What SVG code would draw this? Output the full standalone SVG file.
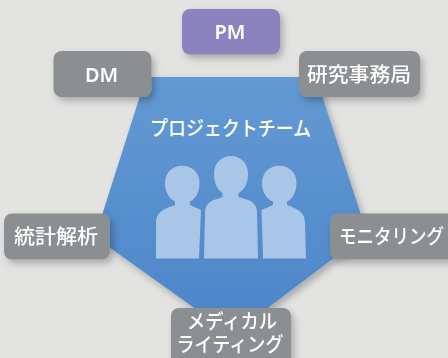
<svg xmlns="http://www.w3.org/2000/svg" width="448" height="358" viewBox="0 0 448 358">
<style>
.n{filter:url(#s)}
.g{fill:#8c8f91}
.t{font-family:"Noto Sans CJK JP","Noto Sans",sans-serif;font-size:20px;font-weight:500;fill:#fff;text-anchor:middle}
.l{font-family:"Noto Sans",sans-serif;font-weight:600;font-size:20px}
.p{fill:#a9c6e6}
</style>
<defs>
<linearGradient id="b" x1="0" y1="0" x2="0" y2="1"><stop offset="0" stop-color="#6399d2"/><stop offset="1" stop-color="#4c85ca"/></linearGradient>
<filter id="s" x="-20%" y="-30%" width="140%" height="170%"><feDropShadow dx="3" dy="4" stdDeviation="3.500" flood-color="#000" flood-opacity=".25"/></filter>
</defs>
<rect width="448" height="358" fill="#e3e3e1"/>
<g id="connectors"></g>
<g id="team">
<polygon points="146,77 316,77 367,233 232,335 95,237" fill="url(#b)" filter="url(#s)"/>
<text class="t" x="230.500" y="135.500" textLength="161" lengthAdjust="spacingAndGlyphs">プロジェクトチーム</text>
<g id="people">
<path class="p" d="M165,183C165,160 199.500,160 199.500,183C199.500,193 195,199 190,201.500V205L201,210L199,258.500H156V224C156,214 160,210 175,205V201.500C170,199 165,193 165,183Z"/>
<path class="p" d="M214,174C214,150 248,150 248,174C248,184 244,190 238.500,193V197L248,200C254,202 257,206 257,213L258,258.500H204L205,213C205,206 208,202 214,200L222.500,197V193C218,190 214,184 214,174Z"/>
<path class="p" d="M262,183C262,160 296.500,160 296.500,183C296.500,193 292,199 287,201.500V205C300,210 305,213 305,224L306,258.500H263L261.500,210L273,205V201.500C267,199 262,193 262,183Z"/>
</g>
</g>
<g id="pm" class="n"><rect x="182" y="9" width="98" height="45.500" rx="8" fill="#8a83bd"/><text class="t l" x="230" y="39">PM</text></g>
<g id="dm" class="n"><rect class="g" x="53.500" y="51" width="98" height="46" rx="8"/><text class="t l" x="101.500" y="81.500">DM</text></g>
<g id="office" class="n"><rect class="g" x="299" y="51" width="121" height="46" rx="8"/><text class="t" x="359" y="81.500" textLength="104" lengthAdjust="spacingAndGlyphs">研究事務局</text></g>
<g id="stats" class="n"><rect class="g" x="4" y="213.500" width="106" height="46" rx="8"/><text class="t" x="56" y="244" textLength="84" lengthAdjust="spacingAndGlyphs">統計解析</text></g>
<g id="monitor" class="n"><rect class="g" x="330" y="213.500" width="130" height="46" rx="8"/><text class="t" x="391.500" y="244" textLength="105" lengthAdjust="spacingAndGlyphs">モニタリング</text></g>
<g id="writing" class="n"><rect class="g" x="171" y="308" width="120" height="60" rx="8"/><text class="t"><tspan x="232" y="329" textLength="90" lengthAdjust="spacingAndGlyphs">メディカル</tspan><tspan x="230" y="352" textLength="107" lengthAdjust="spacingAndGlyphs">ライティング</tspan></text></g>
</svg>
